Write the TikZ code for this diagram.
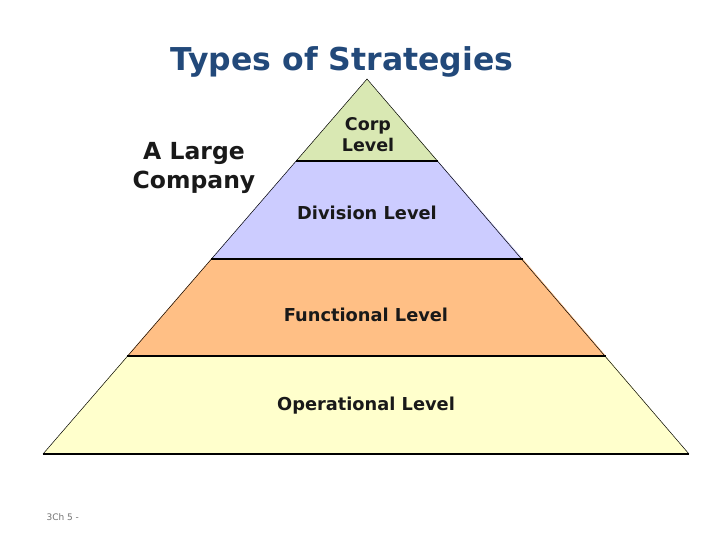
\documentclass[tikz,border=0pt]{standalone}
\usepackage{fontspec}
\setmainfont{DejaVu Sans}
\definecolor{titleblue}{HTML}{22497A}
\definecolor{corpfill}{HTML}{D9E8B3}
\definecolor{divfill}{HTML}{CCCCFF}
\definecolor{funcfill}{HTML}{FFBF85}
\definecolor{opfill}{HTML}{FFFFCC}
\begin{document}
\begin{tikzpicture}[x=1pt,y=-1pt,
  lvl/.style={draw=black,line width=0.5pt},
  sep/.style={draw=black,line width=1.1pt},
  lbl/.style={font=\bfseries\fontsize{17.8}{21}\selectfont,align=center,text=black!90,inner sep=0pt},
]
\useasboundingbox (0,0) rectangle (720,540);
\coordinate (apex) at (367,79);
\coordinate (cL) at (296,161); \coordinate (cR) at (438,161);
\coordinate (dL) at (211,259); \coordinate (dR) at (523,259);
\coordinate (fL) at (127,356); \coordinate (fR) at (606,356);
\coordinate (oL) at (43,454); \coordinate (oR) at (689,454);
\fill[opfill] (fL) -- (fR) -- (oR) -- (oL) -- cycle;
\fill[funcfill] (dL) -- (dR) -- (fR) -- (fL) -- cycle;
\fill[divfill] (cL) -- (cR) -- (dR) -- (dL) -- cycle;
\fill[corpfill] (apex) -- (cR) -- (cL) -- cycle;
\draw[lvl] (oL) -- (apex) -- (oR);
\draw[sep] (cL) -- (cR);
\draw[sep] (dL) -- (dR);
\draw[sep] (fL) -- (fR);
\draw[sep] (oL) -- (oR);
\node[font=\bfseries\fontsize{31.5}{36}\selectfont,text=titleblue] (title) at (342,62) {Types of Strategies};
\node[font=\bfseries\fontsize{23.5}{29}\selectfont,align=center,text=black!90,inner sep=0pt] (company) at (194,168) {A Large\\Company};
\node[lbl,font=\bfseries\fontsize{17.5}{21}\selectfont] (corp) at (368,135) {Corp\\Level};
\node[lbl] (div) at (367,213) {Division Level};
\node[lbl] (func) at (366,315) {Functional Level};
\node[lbl] (op) at (366,406) {Operational Level};
\node[font=\fontsize{9}{10}\selectfont,text=black!55,anchor=west] (foot) at (43,517) {3Ch 5 -};
\end{tikzpicture}
\end{document}
